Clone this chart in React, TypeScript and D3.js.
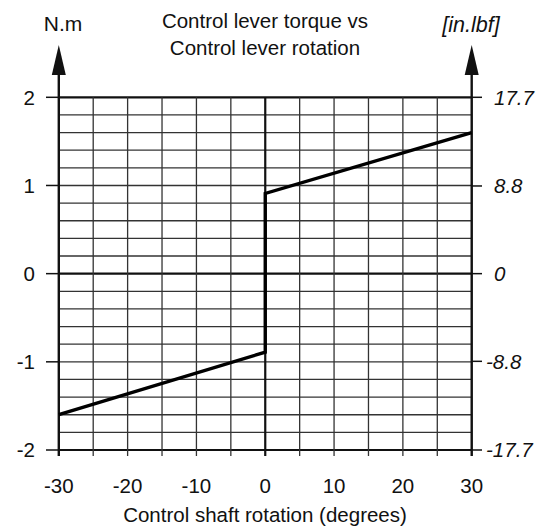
import React from "react";
import * as d3 from "d3";

const titleLines = ["Control lever torque vs", "Control lever rotation"];
const xLabel = "Control shaft rotation (degrees)";
const leftUnit = "N.m";
const rightUnit = "[in.lbf]";

const xTicks = [-30, -20, -10, 0, 10, 20, 30];
const leftTicks = [-2, -1, 0, 1, 2];
const rightTicks = [-17.7, -8.8, 0, 8.8, 17.7];
const rightTickLabels = ["-17.7", "-8.8", "0", "8.8", "17.7"];

// torque curve: negative branch and positive branch
const negBranchX = [-30, 0];
const negBranchY = [-1.6, -0.89];
const posBranchX = [0, 30];
const posBranchY = [0.91, 1.6];

const W = 552;
const H = 530;
const L = 58.8;
const R = 471.7;
const T = 97.3;
const B = 450;

export default function App() {
  const x = d3.scaleLinear().domain([-30, 30]).range([L, R]);
  const y = d3.scaleLinear().domain([-2, 2]).range([B, T]);
  const yR = d3.scaleLinear().domain([-17.7, 17.7]).range([B, T]);

  const vGrid = d3.range(-30, 30.001, 5);
  const hGrid = d3.range(-20, 20.5, 2).map((v) => v / 10);

  const pts: [number, number][] = [
    ...negBranchX.map((v, i) => [v, negBranchY[i]] as [number, number]),
    ...posBranchX.map((v, i) => [v, posBranchY[i]] as [number, number]),
  ];
  const line = d3
    .line<[number, number]>()
    .x((d) => x(d[0]))
    .y((d) => y(d[1]));

  const font = "'Liberation Sans', Arial, Helvetica, sans-serif";
  const gridColor = "#333";

  const arrow = (cx: number) => `M${cx},45 L${cx - 7},75 L${cx + 7},75 Z`;

  return (
    <div style={{ position: "absolute", left: 0, top: 0 }}>
      <svg width={W} height={H} style={{ display: "block", background: "#fff" }} fontFamily={font}>
        {/* grid */}
        {hGrid.map((v, i) => {
          const major = Math.abs(v) < 1e-9 || Math.abs(Math.abs(v) - 2) < 1e-9;
          return (
            <line
              key={"h" + i}
              x1={L}
              x2={R}
              y1={y(v)}
              y2={y(v)}
              stroke={major ? "#111" : gridColor}
              strokeWidth={major ? 2.2 : 1.3}
            />
          );
        })}
        {vGrid.map((v, i) => {
          const major = Math.abs(v) < 1e-9;
          return (
            <line
              key={"v" + i}
              x1={x(v)}
              x2={x(v)}
              y1={T}
              y2={B + 6}
              stroke={major ? "#111" : gridColor}
              strokeWidth={major ? 2.2 : 1.3}
            />
          );
        })}
        {/* left & right axes */}
        <line x1={L} x2={L} y1={B + 6} y2={70} stroke="#111" strokeWidth={2.4} />
        <line x1={R} x2={R} y1={B + 6} y2={70} stroke="#111" strokeWidth={2.4} />
        <path d={arrow(L)} fill="#111" />
        <path d={arrow(R)} fill="#111" />
        {/* left ticks */}
        {leftTicks.map((v) => (
          <g key={"lt" + v}>
            <line x1={46} x2={L} y1={y(v)} y2={y(v)} stroke="#111" strokeWidth={1.5} />
            <text x={35} y={y(v)} dy="0.36em" textAnchor="end" fontSize={20.5} fill="#111">
              {v}
            </text>
          </g>
        ))}
        {/* right ticks */}
        {rightTicks.map((v, i) => (
          <g key={"rt" + i}>
            <line x1={R} x2={482} y1={yR(v)} y2={yR(v)} stroke="#111" strokeWidth={1.5} />
            <text
              x={v < 0 ? 486 : 494}
              y={yR(v)}
              dy="0.36em"
              textAnchor="start"
              fontSize={20.5}
              fontStyle="italic"
              fill="#111"
            >
              {rightTickLabels[i]}
            </text>
          </g>
        ))}
        {/* x tick labels */}
        {xTicks.map((v) => (
          <text key={"xt" + v} x={x(v)} y={493} textAnchor="middle" fontSize={20.5} fill="#111">
            {v}
          </text>
        ))}
        {/* data */}
        <path d={line(pts) || ""} fill="none" stroke="#000" strokeWidth={3.4} strokeLinejoin="miter" />
        {/* titles */}
        {titleLines.map((t, i) => (
          <text key={"t" + i} x={265} y={28 + i * 26.5} textAnchor="middle" fontSize={20.5} fill="#111">
            {t}
          </text>
        ))}
        <text x={63} y={30.5} textAnchor="middle" fontSize={21} fill="#111">
          {leftUnit}
        </text>
        <text x={471} y={32} textAnchor="middle" fontSize={21.5} fontStyle="italic" fill="#111">
          {rightUnit}
        </text>
        <text x={265} y={521.5} textAnchor="middle" fontSize={20.5} fill="#111">
          {xLabel}
        </text>
      </svg>
    </div>
  );
}
